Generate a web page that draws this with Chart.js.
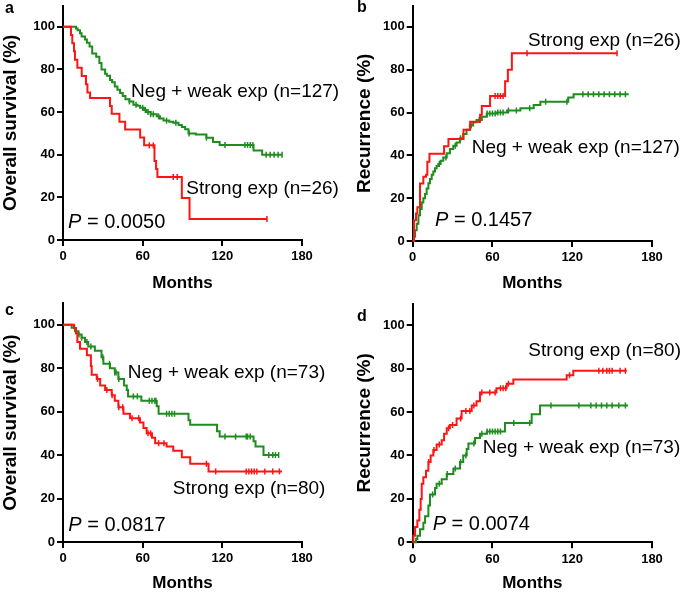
<!DOCTYPE html>
<html>
<head>
<meta charset="utf-8">
<script src="https://cdn.jsdelivr.net/npm/chart.js@4/dist/chart.umd.min.js"></script>
<style>
  html, body { margin: 0; padding: 0; background: #fff; overflow: hidden; }
  .panel { position: absolute; }
</style>
</head>
<body>
<div class="panel" style="left:0;top:0;width:342px;height:295px"><canvas id="chartA"></canvas></div>
<div class="panel" style="left:342px;top:0;width:343px;height:295px"><canvas id="chartB"></canvas></div>
<div class="panel" style="left:0;top:295px;width:342px;height:297px"><canvas id="chartC"></canvas></div>
<div class="panel" style="left:342px;top:295px;width:343px;height:297px"><canvas id="chartD"></canvas></div>
<script>
/* ticks */
const monthTicks = [0, 60, 120, 180];
const pctTicks = [0, 20, 40, 60, 80, 100];

/* a: overall survival, n=127 vs n=26 */
const aWeakT = [0, 9.8, 11, 12.8, 14, 16.6, 18, 20, 22, 25, 27.4, 29, 31.7, 33, 35.4, 37, 39, 41, 43, 45, 47, 50, 53, 56, 58, 61, 63, 66, 70.6, 73, 75.7, 80, 83, 87, 89.5, 92, 94.5, 100, 108, 113, 118, 143.5, 150, 165];
const aWeakV = [100, 99.2, 98.4, 97, 95.5, 94, 92.5, 90.8, 87.5, 86, 83, 80, 78, 77, 75, 74, 72, 70.5, 69, 67.5, 66, 65, 63.5, 63, 62, 61, 60, 59, 58, 57, 56, 55.5, 55, 54, 53, 52, 50, 49.5, 48, 46, 44.6, 42, 40, 40];
const aWeakCens = [50, 55, 60, 62, 64, 66, 68, 72, 78, 85, 95, 108, 122, 137, 139, 141, 143, 153, 156, 159, 162, 165];
const aStrongT = [0, 6, 7, 8.3, 9, 10.8, 14.1, 17.3, 18.4, 20.4, 35.4, 36.7, 42.5, 46.8, 58.1, 61.1, 68.9, 70.1, 71.1, 89.5, 95.3, 153.6];
const aStrongV = [100, 96.2, 92.3, 88.5, 84.6, 80.8, 76.9, 73.1, 69.2, 66.6, 62.9, 59.2, 55.5, 51.8, 48.1, 44.4, 37, 33.3, 29.6, 19.7, 9.9, 9.9];
const aStrongCens = [65, 68, 83, 86, 153.6];

/* b: recurrence, n=127 vs n=26 */
const bWeakT = [0, 1, 1.8, 3, 4.3, 5.5, 6.8, 8, 9.3, 10.5, 11.8, 13, 14.3, 15.5, 16.8, 18, 19.3, 21, 23, 25.6, 28, 30.5, 33, 35.5, 38, 40.5, 43, 45.5, 48, 52, 55.7, 63, 71, 81, 91, 96, 117, 121, 162.5];
const bWeakV = [0, 2, 5, 8, 12, 15, 18, 20, 22, 24.5, 27, 29, 31, 32.5, 34, 35, 36, 37.5, 39, 41, 43, 44.5, 46, 48, 50, 52, 54, 55.5, 56.5, 58, 59.5, 60, 61, 62, 63.5, 65, 67, 68.5, 68.5];
const bWeakCens = [20, 25, 32, 36, 44, 50, 56, 58, 60, 62, 64, 66, 68, 72, 78, 88, 100, 116, 128, 132, 136, 140, 144, 148, 152, 156, 160];
const bStrongT = [0, 1, 2.5, 3.5, 5.5, 8, 10, 11, 12.6, 23.6, 26.9, 38.2, 43.2, 50.7, 52, 58.2, 69.5, 71.6, 74.6, 153.7];
const bStrongV = [0, 9.7, 12.8, 15.8, 26.9, 30, 31, 37, 40.8, 44.3, 47.7, 52, 55.7, 59, 63, 67.7, 74.6, 80, 87.7, 87.7];
const bStrongCens = [62, 64, 66, 68, 86, 153.7];

/* c: overall survival, n=73 vs n=80 */
const cWeakT = [0, 6.5, 9, 11.6, 14, 16.6, 19, 24, 29, 30.4, 35.4, 39, 41.7, 46, 48, 49, 59, 70.6, 72, 94.5, 95.8, 116, 118, 143.5, 145, 151, 162.4];
const cWeakV = [100, 98.6, 97, 95.5, 94, 92, 90, 88, 85, 82, 80, 78, 75, 72, 70, 67, 65, 62.5, 59, 56, 54, 51, 48.5, 46.4, 44, 40, 40];
const cWeakCens = [12, 14, 18, 21, 30, 35, 39, 40, 42, 53, 56, 65, 67, 69, 70, 78, 80, 82, 84, 122, 130, 138, 139, 141, 155, 158, 160, 162.4];
const cStrongT = [0, 8.3, 9.8, 10.8, 12.8, 18, 21, 21.6, 25.4, 28, 31.7, 36.7, 39, 41.7, 45.5, 50.5, 58, 60.6, 63, 67, 69.4, 78, 83, 89.5, 95.8, 109.6, 165];
const cStrongV = [100, 98.5, 96, 92, 89, 86, 81, 77, 75, 72, 70, 67.5, 65, 62, 59, 57, 55, 52.5, 50, 48, 45.5, 44, 42, 39, 36, 32.5, 32.5];
const cStrongCens = [26, 33, 37, 42, 45, 52, 57, 64, 66, 72, 76, 108, 115, 138, 140, 142, 144, 146, 152, 158, 163];

/* d: recurrence, n=73 vs n=80 */
const dWeakT = [0, 2.5, 3.5, 5.5, 8, 9.3, 11.8, 13, 16.8, 18, 21.8, 25.6, 30.6, 35.6, 38, 40.6, 41.9, 46.9, 50.6, 55.7, 69.4, 89.5, 95.8, 162];
const dWeakV = [0, 1.5, 3, 6, 9, 12, 17, 22, 25, 27, 29, 31.5, 34, 37, 40, 43, 45.5, 48, 50, 51, 55, 59, 63, 63];
const dWeakCens = [15, 20, 26, 32, 36, 40, 46, 52, 56, 58, 60, 62, 64, 66, 76, 88, 104, 125, 134, 138, 142, 146, 150, 155, 160];
const dStrongT = [0, 0.5, 1.8, 3.5, 5, 6, 6.8, 8, 10, 11.8, 13.5, 15.5, 18, 21.8, 23.6, 25.6, 28, 33, 36.8, 44.4, 48, 50.6, 63, 70.7, 75.7, 115.8, 120.8, 161];
const dStrongV = [0, 3, 7, 10, 15, 20, 27, 30, 33, 37, 40, 42.5, 45, 47, 50, 52.5, 54, 57, 60.5, 63, 65, 69, 71, 73, 75, 77, 79, 79];
const dStrongCens = [12, 16, 20, 27, 30, 36, 40, 43, 46, 52, 58, 62, 66, 68, 70, 72, 118, 140, 143, 146, 148, 150, 156, 160];

const FONT = '"Liberation Sans", Arial, Helvetica, sans-serif';
const RED = '#ff1414';
const GREEN = '#1f8c1f';

/* value of a step curve at time t */
const stepAt = (T, V, t) => {
    let v = V[0];
    for (let i = 0; i < T.length; i++) if (T[i] <= t) v = V[i];
    return v;
};

const curve = (T, V, color) => ({
    data: T.map((t, i) => ({ x: t, y: V[i] })),
    showLine: true,
    stepped: 'before',
    borderColor: color,
    borderWidth: 2,
    pointRadius: 0,
    clip: 6
});

const censor = (T, V, C, color) => ({
    data: C.map(t => ({ x: t, y: stepAt(T, V, t) })),
    showLine: false,
    pointStyle: 'line',
    rotation: 90,
    pointRadius: 3,
    borderColor: color,
    borderWidth: 1.5,
    clip: 6
});

/* draws panel letter, group labels and P value */
const textPlugin = {
    id: 'panelText',
    afterDraw(chart, args, opts) {
        const ctx = chart.ctx;
        const xs = chart.scales.x, ys = chart.scales.y;
        ctx.save();
        ctx.fillStyle = '#000';
        ctx.textBaseline = 'middle';
        ctx.textAlign = 'left';
        ctx.font = 'bold 16px ' + FONT;
        ctx.fillText(opts.letter, opts.letterPos[0], opts.letterPos[1]);
        ctx.font = '19px ' + FONT;
        opts.labels.forEach(l => {
            ctx.fillText(l.text, xs.getPixelForValue(l.at[0]), ys.getPixelForValue(l.at[1]));
        });
        let px = xs.getPixelForValue(opts.pAt[0]);
        const py = ys.getPixelForValue(opts.pAt[1]);
        ctx.font = 'italic 20px ' + FONT;
        ctx.fillText('P', px, py);
        px += ctx.measureText('P').width;
        ctx.font = '20px ' + FONT;
        ctx.fillText(' = ' + opts.p, px, py);
        ctx.restore();
    }
};

const axisStyle = {
    border: { display: true, color: '#000', width: 2 },
    grid: { display: true, drawOnChartArea: false, drawTicks: true, tickLength: 6, color: '#000', lineWidth: 2 }
};

const makePanel = (id, p) => {
    new Chart(document.getElementById(id), {
        type: 'scatter',
        data: {
            datasets: [
                curve(p.strong[0], p.strong[1], RED),
                censor(p.strong[0], p.strong[1], p.strong[2], RED),
                curve(p.weak[0], p.weak[1], GREEN),
                censor(p.weak[0], p.weak[1], p.weak[2], GREEN)
            ]
        },
        options: {
            responsive: true,
            maintainAspectRatio: false,
            animation: false,
            events: [],
            layout: { padding: p.padding },
            plugins: {
                legend: { display: false },
                tooltip: { enabled: false },
                panelText: {
                    letter: p.letter,
                    letterPos: p.letterPos,
                    labels: p.labels,
                    p: p.p,
                    pAt: p.pAt
                }
            },
            scales: {
                x: {
                    type: 'linear',
                    min: 0,
                    max: 180,
                    ...axisStyle,
                    afterBuildTicks: s => { s.ticks = monthTicks.map(v => ({ value: v })); },
                    afterFit: s => { s.height = p.xHeight; s.paddingLeft = 0; s.paddingRight = 0; },
                    ticks: { color: '#000', padding: 3, maxRotation: 0, font: { family: FONT, size: 13, weight: 'bold' } },
                    title: { display: true, text: 'Months', color: '#000', padding: { top: 0, bottom: p.titlePad }, font: { family: FONT, size: 17, weight: 'bold', lineHeight: 1 } }
                },
                y: {
                    min: 0,
                    max: 110,
                    ...axisStyle,
                    afterBuildTicks: s => { s.ticks = pctTicks.map(v => ({ value: v })); },
                    afterFit: s => { s.width = p.yWidth; s.paddingTop = 0; s.paddingBottom = 0; },
                    ticks: { color: '#000', padding: 2, font: { family: FONT, size: 13, weight: 'bold' } },
                    title: { display: true, text: p.yTitle, color: '#000', padding: { top: 1, bottom: 0 }, font: { family: FONT, size: 19, weight: 'bold', lineHeight: 1 } }
                }
            }
        },
        plugins: [textPlugin]
    });
};

makePanel('chartA', {
    letter: 'a', letterPos: [5, 9],
    yTitle: 'Overall survival (%)',
    weak: [aWeakT, aWeakV, aWeakCens], strong: [aStrongT, aStrongV, aStrongCens],
    labels: [{ text: 'Neg + weak exp (n=127)', at: [51.3, 69.5] }, { text: 'Strong exp (n=26)', at: [92.8, 24] }],
    p: '0.0050', pAt: [3.8, 8.3],
    padding: { left: 0, right: 40, top: 2, bottom: 0 }, yWidth: 63, xHeight: 55, titlePad: 3
});

makePanel('chartB', {
    letter: 'b', letterPos: [15, 8],
    yTitle: 'Recurrence (%)',
    weak: [bWeakT, bWeakV, bWeakCens], strong: [bStrongT, bStrongV, bStrongCens],
    labels: [{ text: 'Strong exp (n=26)', at: [86.8, 93.7] }, { text: 'Neg + weak exp (n=127)', at: [44.4, 43.5] }],
    p: '0.1457', pAt: [16.8, 9.7],
    padding: { left: 12, right: 33, top: 3, bottom: 0 }, yWidth: 58.7, xHeight: 54, titlePad: 3
});

makePanel('chartC', {
    letter: 'c', letterPos: [5, 16],
    yTitle: 'Overall survival (%)',
    weak: [cWeakT, cWeakV, cWeakCens], strong: [cStrongT, cStrongV, cStrongCens],
    labels: [{ text: 'Neg + weak exp (n=73)', at: [48.8, 77.7] }, { text: 'Strong exp (n=80)', at: [82.7, 24.6] }],
    p: '0.0817', pAt: [4, 7.7],
    padding: { left: 0, right: 40, top: 8, bottom: 0 }, yWidth: 63, xHeight: 50, titlePad: 0
});

makePanel('chartD', {
    letter: 'd', letterPos: [15, 22],
    yTitle: 'Recurrence (%)',
    weak: [dWeakT, dWeakV, dWeakCens], strong: [dStrongT, dStrongV, dStrongCens],
    labels: [{ text: 'Strong exp (n=80)', at: [87, 88] }, { text: 'Neg + weak exp (n=73)', at: [52.7, 43.7] }],
    p: '0.0074', pAt: [15, 8],
    padding: { left: 12, right: 33, top: 8.5, bottom: 0 }, yWidth: 58.7, xHeight: 49.7, titlePad: 0
});
</script>
</body>
</html>
